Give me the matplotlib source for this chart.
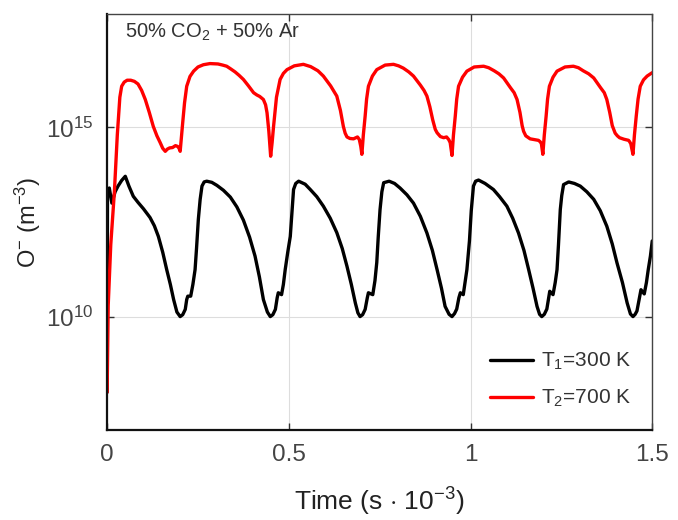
import numpy as np
import matplotlib
matplotlib.use("Agg")
import matplotlib.pyplot as plt

plt.rcParams['font.family'] = ['Liberation Sans', 'DejaVu Sans']
plt.rcParams['mathtext.fontset'] = 'custom'
plt.rcParams['mathtext.rm'] = 'Liberation Sans'
plt.rcParams['mathtext.it'] = 'Liberation Sans:italic'
plt.rcParams['mathtext.bf'] = 'Liberation Sans:bold'

# (time in s*1e-3, log10 of O- density in m^-3)
pts_300 = [
    (0.000, 8.0), (0.001, 13.3), (0.006, 13.4), (0.013, 13.0), (0.022, 13.3), (0.030, 13.45),
    (0.040, 13.6), (0.050, 13.71), (0.060, 13.45), (0.072, 13.18), (0.085, 13.02), (0.100, 12.85),
    (0.118, 12.62), (0.130, 12.4), (0.141, 12.12), (0.153, 11.7), (0.164, 11.24), (0.174, 10.85),
    (0.183, 10.45), (0.192, 10.12), (0.201, 10.0), (0.208, 10.05), (0.215, 10.19), (0.219, 10.45),
    (0.222, 10.54), (0.230, 10.54), (0.236, 10.85), (0.242, 11.24), (0.246, 11.8), (0.251, 12.57),
    (0.256, 13.1), (0.261, 13.45), (0.267, 13.56), (0.274, 13.58),
    (0.288, 13.55), (0.302, 13.47), (0.320, 13.34), (0.339, 13.16), (0.357, 12.9), (0.375, 12.55),
    (0.392, 12.1), (0.407, 11.6), (0.419, 11.05), (0.430, 10.45), (0.441, 10.12), (0.449, 10.0),
    (0.456, 10.05), (0.463, 10.19), (0.468, 10.5), (0.471, 10.63), (0.480, 10.58), (0.485, 10.85),
    (0.490, 11.24), (0.497, 11.7), (0.504, 12.12), (0.509, 12.8), (0.513, 13.36), (0.519, 13.52),
    (0.527, 13.58),
    (0.545, 13.5), (0.559, 13.36), (0.577, 13.17), (0.595, 12.92), (0.614, 12.6), (0.632, 12.22),
    (0.647, 11.8), (0.660, 11.33), (0.672, 10.85), (0.683, 10.36), (0.690, 10.1), (0.696, 10.0),
    (0.703, 10.05), (0.710, 10.19), (0.716, 10.5), (0.719, 10.63), (0.731, 10.58), (0.737, 10.95),
    (0.742, 11.43), (0.746, 12.1), (0.751, 12.83), (0.756, 13.3), (0.761, 13.54), (0.776, 13.58),
    (0.791, 13.52), (0.806, 13.4), (0.825, 13.22), (0.843, 13.0), (0.862, 12.65), (0.880, 12.21),
    (0.895, 11.75), (0.908, 11.24), (0.920, 10.75), (0.930, 10.27), (0.941, 10.06), (0.949, 10.0),
    (0.956, 10.08), (0.962, 10.2), (0.968, 10.5), (0.972, 10.63), (0.980, 10.58), (0.990, 11.24),
    (0.997, 12.0), (1.002, 12.8), (1.008, 13.45), (1.014, 13.58), (1.022, 13.61),
    (1.040, 13.52), (1.063, 13.36), (1.080, 13.17), (1.100, 12.92), (1.116, 12.6), (1.132, 12.21),
    (1.147, 11.75), (1.160, 11.24), (1.172, 10.75), (1.183, 10.27), (1.190, 10.06), (1.196, 10.0),
    (1.203, 10.06), (1.210, 10.2), (1.215, 10.5), (1.218, 10.67), (1.227, 10.58), (1.233, 10.9),
    (1.238, 11.24), (1.242, 11.9), (1.247, 12.83), (1.251, 13.2), (1.256, 13.49), (1.270, 13.56),
    (1.286, 13.52), (1.302, 13.45), (1.320, 13.3), (1.339, 13.1), (1.357, 12.8), (1.375, 12.39),
    (1.390, 11.92), (1.403, 11.42), (1.418, 10.9), (1.431, 10.36), (1.440, 10.07), (1.447, 10.0),
    (1.453, 10.06), (1.458, 10.15), (1.464, 10.45), (1.469, 10.71), (1.478, 10.6), (1.484, 10.9),
    (1.489, 11.24), (1.495, 11.6), (1.500, 12.0),
]

pts_700 = [
    (0.000, 8.0), (0.003, 10.3), (0.010, 11.9), (0.020, 13.3), (0.028, 14.8), (0.035, 15.8),
    (0.040, 16.09), (0.047, 16.2), (0.055, 16.25), (0.065, 16.25), (0.075, 16.22), (0.085, 16.15),
    (0.095, 15.98), (0.105, 15.74), (0.116, 15.4), (0.127, 15.03), (0.137, 14.78), (0.146, 14.6),
    (0.153, 14.45), (0.160, 14.37), (0.166, 14.43), (0.172, 14.46), (0.180, 14.47), (0.188, 14.52),
    (0.194, 14.50), (0.198, 14.45), (0.201, 14.37), (0.204, 14.7), (0.208, 15.13), (0.213, 15.65),
    (0.219, 16.09), (0.228, 16.35), (0.238, 16.49), (0.250, 16.6), (0.265, 16.66), (0.283, 16.69),
    (0.305, 16.68), (0.318, 16.65), (0.329, 16.62), (0.340, 16.55), (0.352, 16.47), (0.363, 16.38),
    (0.375, 16.27), (0.389, 16.1), (0.403, 15.92), (0.412, 15.86), (0.420, 15.82), (0.430, 15.74),
    (0.436, 15.6), (0.440, 15.39), (0.445, 14.9), (0.450, 14.24), (0.454, 14.6), (0.458, 15.03),
    (0.466, 15.8), (0.476, 16.27), (0.485, 16.43), (0.495, 16.53), (0.515, 16.63), (0.540, 16.67),
    (0.560, 16.61), (0.580, 16.5), (0.595, 16.36), (0.615, 16.1), (0.632, 15.83), (0.642, 15.45),
    (0.650, 15.03), (0.655, 14.85), (0.660, 14.75), (0.668, 14.71), (0.678, 14.70), (0.689, 14.75),
    (0.694, 14.68), (0.698, 14.5), (0.701, 14.29), (0.705, 14.8), (0.710, 15.30), (0.714, 15.75),
    (0.719, 16.09), (0.730, 16.36), (0.742, 16.53), (0.765, 16.65), (0.788, 16.67), (0.802, 16.63),
    (0.815, 16.57), (0.830, 16.47), (0.843, 16.36), (0.862, 16.12), (0.872, 15.98), (0.880, 15.83),
    (0.888, 15.55), (0.896, 15.2), (0.903, 14.95), (0.908, 14.86), (0.917, 14.76), (0.926, 14.73),
    (0.934, 14.75), (0.940, 14.68), (0.944, 14.6), (0.949, 14.26), (0.953, 14.8), (0.958, 15.30),
    (0.962, 15.75), (0.967, 16.09), (0.978, 16.33), (0.990, 16.49), (1.010, 16.6), (1.036, 16.62),
    (1.050, 16.58), (1.065, 16.5), (1.078, 16.42), (1.091, 16.31), (1.110, 16.05), (1.120, 15.92),
    (1.128, 15.74), (1.136, 15.4), (1.142, 15.05), (1.146, 14.9), (1.152, 14.78), (1.164, 14.70),
    (1.176, 14.68), (1.187, 14.66), (1.192, 14.62), (1.195, 14.57), (1.199, 14.29), (1.203, 14.8),
    (1.208, 15.30), (1.212, 15.75), (1.217, 16.09), (1.227, 16.33), (1.238, 16.49), (1.260, 16.6),
    (1.283, 16.62), (1.297, 16.58), (1.310, 16.5), (1.325, 16.42), (1.339, 16.31), (1.358, 16.05),
    (1.368, 15.92), (1.375, 15.74), (1.383, 15.4), (1.390, 15.05), (1.398, 14.85), (1.404, 14.78),
    (1.410, 14.73), (1.422, 14.69), (1.435, 14.66), (1.438, 14.62), (1.441, 14.57), (1.447, 14.29),
    (1.451, 14.8), (1.456, 15.30), (1.461, 15.75), (1.467, 16.09), (1.476, 16.26), (1.486, 16.36),
    (1.500, 16.45),
]

t_300 = [p[0] for p in pts_300]
n_300 = [p[1] for p in pts_300]
t_700 = [p[0] for p in pts_700]
n_700 = [p[1] for p in pts_700]

label_300 = r'T$_1$=300 K'
label_700 = r'T$_2$=700 K'
x_ticks = [0, 0.5, 1, 1.5]
x_tick_labels = ['0', '0.5', '1', '1.5']
y_ticks = [1e10, 1e15]

fig = plt.figure(figsize=(6.78, 5.2), dpi=100)
ax = fig.add_axes([0.158, 0.173, 0.804, 0.800])

ax.plot(t_300, 10 ** np.array(n_300), color='black', lw=2.4, label=label_300,
        solid_joinstyle='round', solid_capstyle='round')
ax.plot(t_700, 10 ** np.array(n_700), color='#ff0000', lw=2.4, label=label_700,
        solid_joinstyle='round', solid_capstyle='round')

ax.set_yscale('log')
ax.set_xlim(0, 1.5)
ax.set_ylim(1e7, 1e18)
ax.set_xticks(x_ticks)
ax.set_xticklabels(x_tick_labels)
ax.set_yticks(y_ticks)
ax.yaxis.set_minor_locator(matplotlib.ticker.NullLocator())
ax.grid(True, color='#dddddd', lw=0.8)
ax.tick_params(direction='in', top=True, right=True, length=5, width=1,
               labelsize=17.5, colors='#333333', labelcolor='#444444', pad=10)

for s in ['left', 'bottom']:
    ax.spines[s].set_color('#111111')
    ax.spines[s].set_linewidth(1.6)
for s in ['top', 'right']:
    ax.spines[s].set_color('#444444')
    ax.spines[s].set_linewidth(1.0)

ax.set_xlabel(r'Time (s $\cdot$ 10$^{-3}$)', fontsize=19, color='#222222', labelpad=14)
ax.set_ylabel(r'O$^{-}$ (m$^{-3}$)', fontsize=17, color='#222222', labelpad=2)

ax.text(0.032, 0.955, r'50% CO$_2$ + 50% Ar', transform=ax.transAxes,
        fontsize=14.5, color='#333333', va='center', ha='left')

leg = ax.legend(loc='lower right', frameon=False, fontsize=15, handlelength=2.1,
                handletextpad=0.35, labelspacing=0.75, bbox_to_anchor=(0.995, 0.005))
for txt in leg.get_texts():
    txt.set_color('#333333')

fig.savefig('out.png', dpi=100)
